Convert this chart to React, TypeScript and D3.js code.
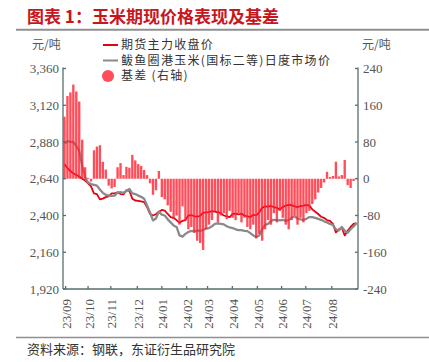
import React from 'react';
import * as d3 from 'd3';

const monthLabels = ['23/09', '23/10', '23/11', '23/12', '24/01', '24/02', '24/03', '24/04', '24/05', '24/06', '24/07', '24/08'];
// trading-day index (in sample units) where each month starts
const monthTickIndex = [0.4, 8.0, 15.7, 24.7, 33.0, 41.4, 48.5, 56.9, 65.4, 73.6, 81.8, 90.6];

const futuresPrice = [
  2735, 2710, 2690, 2676, 2665, 2655, 2640, 2628, 2610, 2590,
  2545, 2540, 2505, 2510, 2520, 2525, 2545, 2545, 2552, 2540,
  2538, 2565, 2560, 2510, 2498, 2495, 2492, 2488, 2455, 2410,
  2400, 2408, 2425, 2436, 2432, 2410, 2390, 2385, 2370, 2352,
  2365, 2370, 2400, 2403, 2395, 2392, 2398, 2418, 2420, 2422,
  2428, 2425, 2420, 2415, 2400, 2395, 2390, 2410, 2412, 2408,
  2412, 2400, 2395, 2390, 2405, 2400, 2420, 2450, 2460, 2458,
  2462, 2455, 2450, 2440, 2455, 2465, 2470, 2468, 2460, 2455,
  2462, 2465, 2470, 2465, 2440, 2425, 2410, 2392, 2385, 2370,
  2365, 2345, 2290, 2310, 2320, 2270, 2300, 2325, 2345, 2350,
];

const spotPrice = [
  2870, 2885, 2880, 2880, 2855, 2822, 2725, 2650, 2615, 2605,
  2600, 2595, 2570, 2548, 2535, 2530, 2528, 2530, 2550, 2552,
  2548, 2560, 2573, 2545, 2540, 2530, 2522, 2510, 2465, 2420,
  2368, 2380, 2425, 2405, 2400, 2375, 2355, 2335, 2325, 2270,
  2262, 2280, 2292, 2300, 2298, 2302, 2300, 2305, 2315, 2318,
  2330, 2345, 2348, 2345, 2342, 2330, 2322, 2318, 2310, 2305,
  2305, 2300, 2298, 2285, 2270, 2260, 2270, 2310, 2338, 2345,
  2365, 2372, 2370, 2368, 2372, 2365, 2370, 2385, 2395, 2380,
  2375, 2372, 2378, 2390, 2390, 2385, 2378, 2372, 2362, 2355,
  2345, 2338, 2310, 2302, 2325, 2300, 2288, 2310, 2328, 2350,
];

const basisValues = [
  135, 180, 188, 205, 190, 168, 85, 25, 2, -6,
  62, 70, 73, 37, 20, -15, -21, -18, 25, 34,
  8, 26, 24, 52, 40, 32, 28, 19, 8, -10,
  -35, -25, 17, -40, -45, -58, -72, -88, -80, -100,
  -60, -90, -110, -105, -118, -135, -140, -155, -110, -100,
  -90, -70, -95, -80, -75, -88, -70, -85, -90, -75,
  -95, -85, -105, -110, -100, -130, -120, -135, -110, -90,
  -100, -75, -95, -70, -85, -100, -110, -90, -80, -100,
  -85, -95, -75, -70, -55, -45, -30, -20, -8, 15,
  4, 6, 37, 5, 8, 41, -14, -20, -5, 2,
];

const leftTicks = [1920, 2160, 2400, 2640, 2880, 3120, 3360];
const rightTicks = [-240, -160, -80, 0, 80, 160, 240];

const title = '图表 1：玉米期现价格表现及基差';
const legendNames = ['期货主力收盘价', '鲅鱼圈港玉米(国标二等)日度市场价', '基差 (右轴)'];
const unitLabel = '元/吨';
const sourceText = '资料来源：钢联，东证衍生品研究院';

const W = 429;
const H = 362;
const PL = 63;
const PR = 358;
const PT = 68.5;
const PB = 289;

const serif = '"Liberation Serif", "Times New Roman", serif';
const cjk = '"Noto Sans CJK SC", "Noto Sans", sans-serif';
const axisColor = '#55706d';
const tickText = '#555';

export default function App() {
  const N = futuresPrice.length;
  const x = d3.scaleLinear().domain([-0.5, N - 0.5]).range([PL, PR]);
  const yL = d3.scaleLinear().domain([1920, 3360]).range([PB, PT]);
  const yR = d3.scaleLinear().domain([-240, 240]).range([PB, PT]);

  const lineL = d3
    .line<number>()
    .x((_, i) => x(i))
    .y((d) => yL(d));

  const bw = (x(1) - x(0)) * 0.8;

  return (
    <div style={{ position: 'absolute', left: 0, top: 0, width: W, height: H, background: '#fff' }}>
      <svg width={W} height={H} viewBox={`0 0 ${W} ${H}`} style={{ display: 'block' }}>
        <rect x={0} y={0} width={W} height={H} fill="#fff" />
        {/* title */}
        <text x={27} y={23} fontFamily={cjk} fontWeight={700} fontSize={17} fill="#c8161d">
          {title}
        </text>
        <line x1={16} x2={W} y1={29.7} y2={29.7} stroke="#8f8f8f" strokeWidth={2} />

        {/* unit labels */}
        <text x={32} y={49} fontFamily={cjk} fontSize={12} fill="#555">
          {unitLabel}
        </text>
        <text x={362} y={49} fontFamily={cjk} fontSize={12} fill="#555">
          {unitLabel}
        </text>

        {/* lines (primary axis) */}
        <path d={lineL(futuresPrice) || ''} fill="none" stroke="#e60012" strokeWidth={1.8} strokeLinejoin="round" />
        <path d={lineL(spotPrice) || ''} fill="none" stroke="#8a8a8a" strokeWidth={2.3} strokeLinejoin="round" />

        {/* basis bars (secondary axis) */}
        <g fill="#ff2131" fillOpacity={0.8}>
          {basisValues.map((b, i) => {
            const y0 = yR(Math.max(0, b));
            const y1 = yR(Math.min(0, b));
            return <rect key={i} x={x(i) - bw / 2} y={y0} width={bw} height={Math.max(0.5, y1 - y0)} />;
          })}
        </g>

        {/* axes */}
        <g stroke={axisColor} strokeWidth={1.3} fill="none">
          <line x1={PL} x2={PL} y1={PT - 1} y2={PB} />
          <line x1={PR} x2={PR} y1={PT - 1} y2={PB} />
          <line x1={PL} x2={PR} y1={PB} y2={PB} />
          {leftTicks.map((t) => (
            <line key={'l' + t} x1={PL} x2={PL + 3} y1={yL(t)} y2={yL(t)} />
          ))}
          {rightTicks.map((t) => (
            <line key={'r' + t} x1={PR - 3} x2={PR} y1={yR(t)} y2={yR(t)} />
          ))}
          {monthTickIndex.map((m, k) => (
            <line key={'b' + k} x1={x(m)} x2={x(m)} y1={PB} y2={PB - 3} />
          ))}
        </g>

        {/* tick labels */}
        {leftTicks.map((t) => (
          <text key={'lt' + t} x={59} y={yL(t)} dy="0.35em" textAnchor="end" fontFamily={serif} fontSize={13} fill={tickText}>
            {d3.format(',')(t)}
          </text>
        ))}
        {rightTicks.map((t) => (
          <text key={'rt' + t} x={363} y={yR(t)} dy="0.35em" textAnchor="start" fontFamily={serif} fontSize={13} fill={tickText}>
            {String(t)}
          </text>
        ))}
        {monthTickIndex.map((m, k) => (
          <text
            key={'bt' + k}
            transform={`translate(${x(m) + 1},299) rotate(-90)`}
            dy="0.35em"
            textAnchor="end"
            fontFamily={serif}
            fontSize={13}
            fill={tickText}
          >
            {monthLabels[k]}
          </text>
        ))}

        {/* legend */}
        <line x1={103} x2={118} y1={45} y2={45} stroke="#e60012" strokeWidth={2} />
        <text x={121} y={49} fontFamily={cjk} fontSize={12} letterSpacing={1.3} fill="#333">
          {legendNames[0]}
        </text>
        <line x1={103} x2={118} y1={60.5} y2={60.5} stroke="#8a8a8a" strokeWidth={2} />
        <text x={121} y={64.5} fontFamily={cjk} fontSize={12} letterSpacing={1.3} fill="#333">
          {legendNames[1]}
        </text>
        <circle cx={108} cy={76} r={6} fill="#ff2131" fillOpacity={0.8} />
        <text x={121} y={80} fontFamily={cjk} fontSize={12} letterSpacing={1.3} fill="#333">
          {legendNames[2]}
        </text>

        {/* footer */}
        <line x1={16} x2={W} y1={337.5} y2={337.5} stroke="#8f8f8f" strokeWidth={1.5} />
        <text x={27} y={354} fontFamily={cjk} fontSize={13} fill="#333">
          {sourceText}
        </text>
      </svg>
    </div>
  );
}
